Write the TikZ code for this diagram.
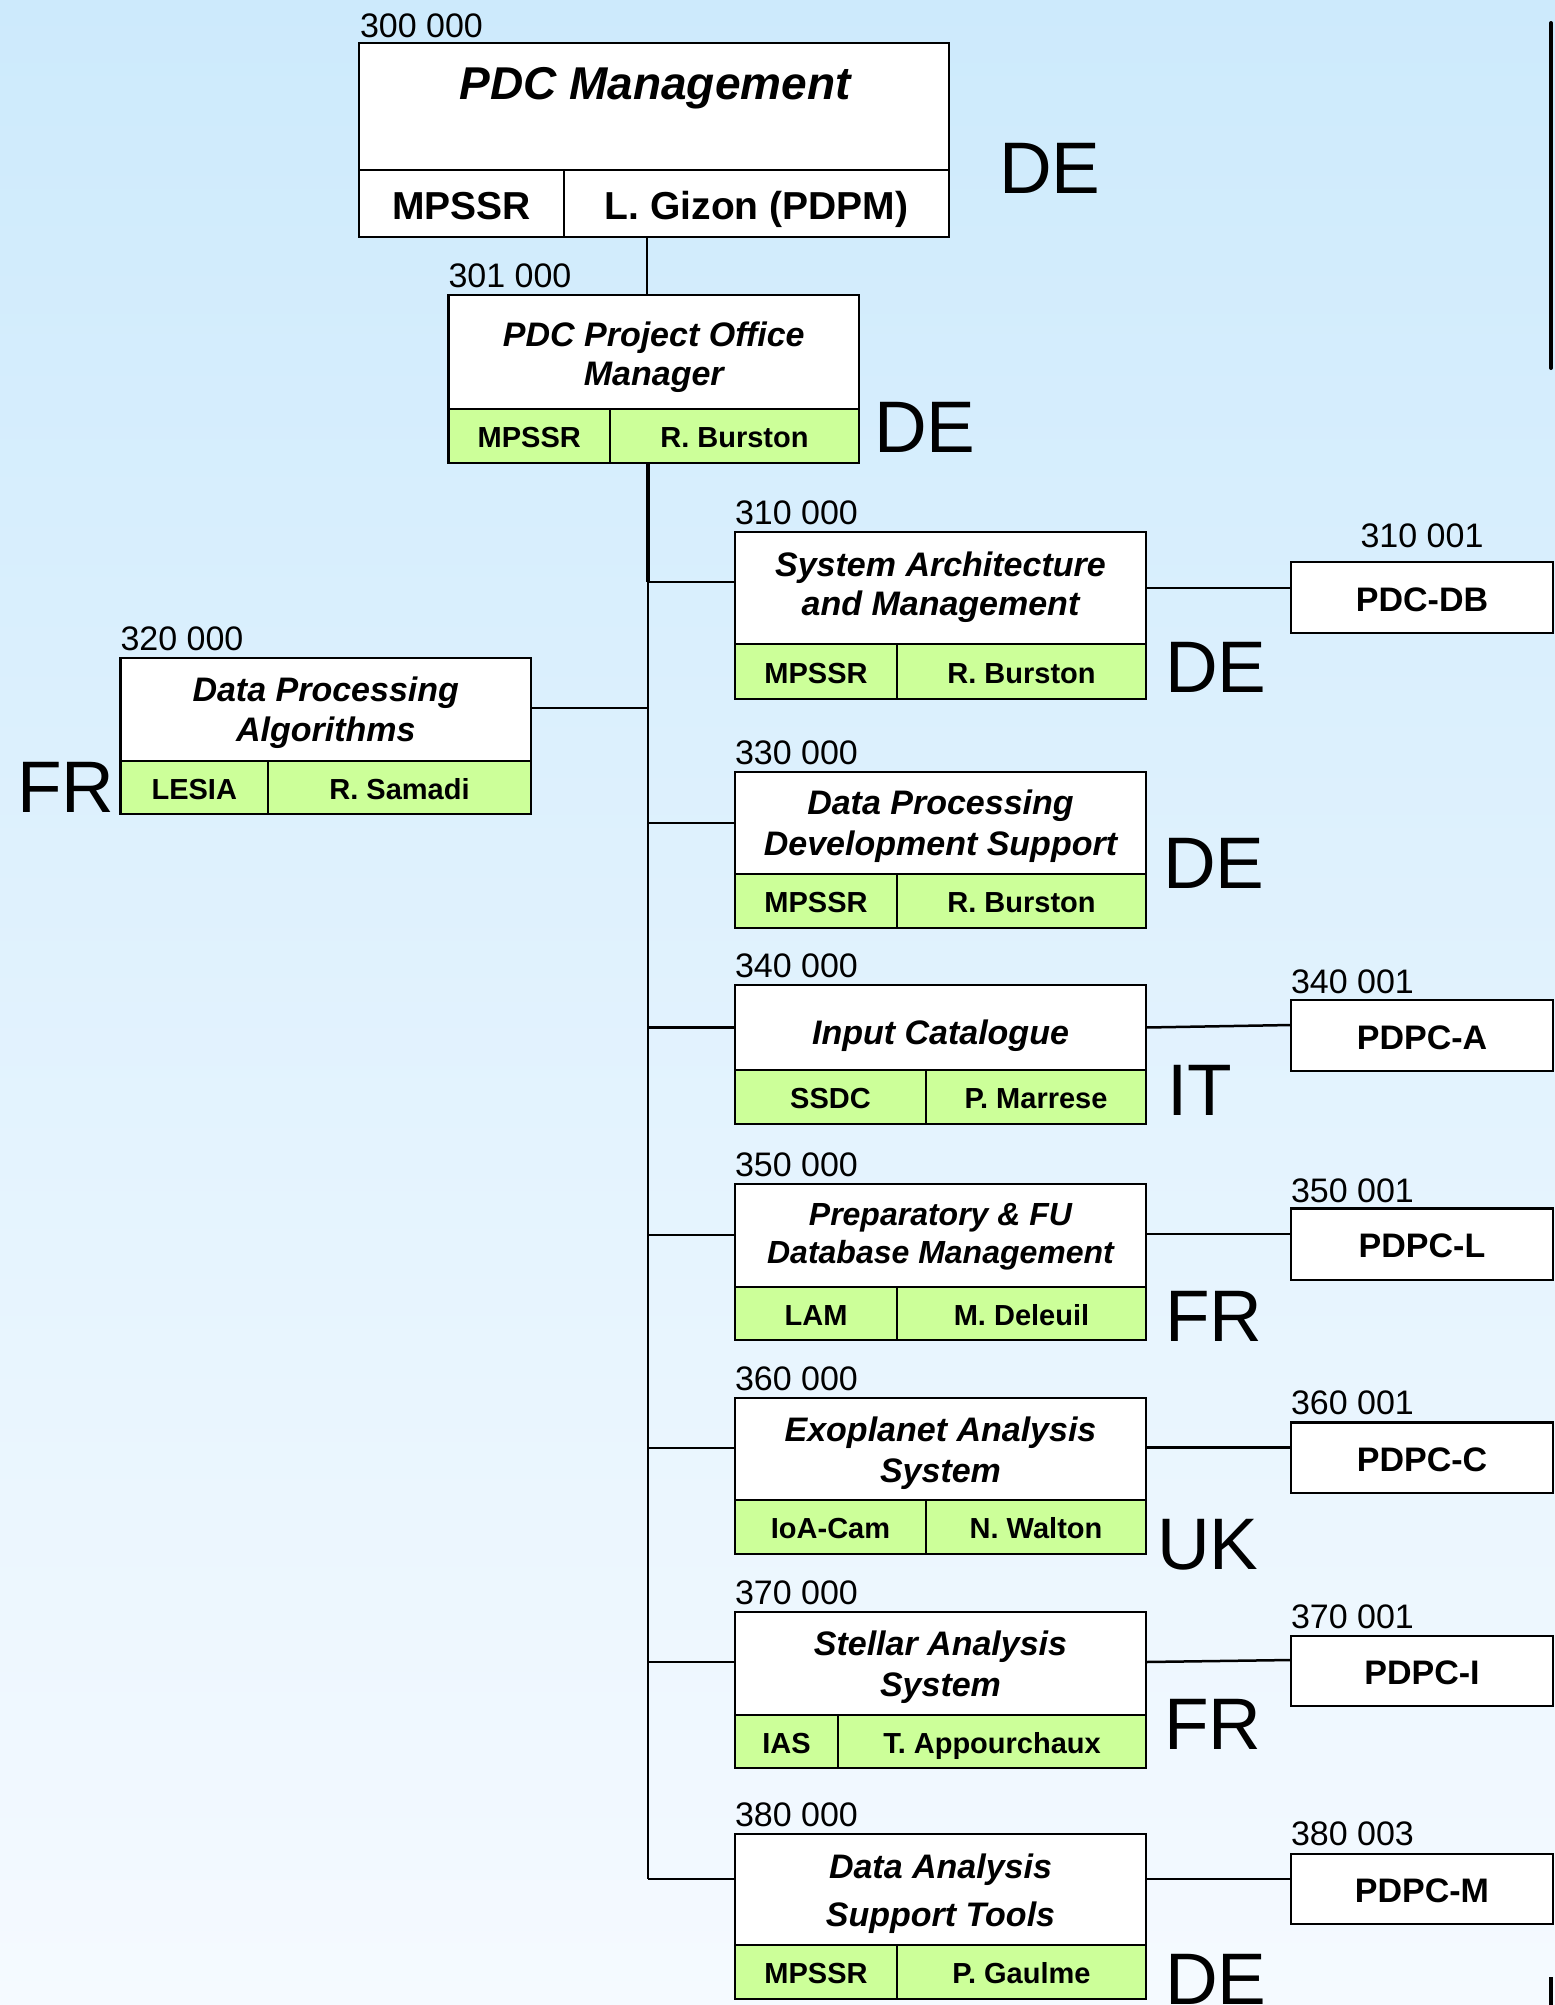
\documentclass[tikz,border=0pt]{standalone}
\usepackage{fontspec}
\setmainfont{Liberation Sans}
\definecolor{bgtop}{RGB}{205,234,252}
\definecolor{bgbot}{RGB}{245,250,255}
\definecolor{lgreen}{RGB}{204,255,153}
\newcommand\botst{\rule[-0.3em]{0pt}{0.3em}}
\tikzset{
  capc/.style={execute at begin node=\rule{0pt}{#1}, execute at end node=\botst},
  capc/.default=1.1em,
  bx/.style={draw=black, line width=2.5pt, rectangle, inner sep=0pt, outer sep=0pt, align=center},
  ttlbox/.style={bx, fill=white},
  ttltext/.style={capc=1.28em, inner sep=0pt, outer sep=0pt, align=center},
  cellg/.style={bx, capc, fill=lgreen, font=\fontsize{29}{33}\selectfont\bfseries},
  cellw/.style={bx, capc, fill=white, font=\fontsize{39}{43}\selectfont\bfseries},
  pdpc/.style={bx, capc, fill=white, font=\fontsize{34}{38}\selectfont\bfseries},
  codel/.style={anchor=base west, inner sep=0pt, outer sep=0pt, font=\fontsize{34}{38}\selectfont},
  ctry/.style={anchor=base west, inner sep=0pt, outer sep=0pt, font=\fontsize{73}{80}\selectfont},
  conn/.style={draw=black, line width=2.5pt},
}
% #1 name #2 left #3 top #4 right #5 divider #6 code #7 font size/baselineskip #8 title #9 downward shift
\newcommand\wbox[9]{%
  \node[ttlbox, minimum width={#4-#2}, minimum height={#5-#3}]
        (t#1) at ({(#2+#4)/2},{(#3+#5)/2}) {};
  \node[ttltext, font=\fontsize#7\selectfont\bfseries\itshape]
        (x#1) at ([yshift=-#9pt]t#1.center) {#8};
  \node[codel] (c#1) at ([yshift=7.5pt]t#1.north west) {#6};
}
% #1 name #2 inst width #3 height #4 total width #5 inst #6 person
\newcommand\wcells[6]{%
  \node[cellg, minimum width={#2}, minimum height={#3}, anchor=north west]
        (i#1) at (t#1.south west) {#5};
  \node[cellg, minimum width={#4-(#2)}, minimum height={#3}, anchor=north east]
        (p#1) at (t#1.south east) {#6};
}
\begin{document}
\begin{tikzpicture}[x=1pt,y=-1pt]
\useasboundingbox (0,0) rectangle (1555,2005);
\shade[top color=bgtop, bottom color=bgbot] (0,0) rectangle (1555,2005);

% decorative black bars at the right edge
\draw[line width=4pt, line cap=round] (1551,23) -- (1551,368);
\draw[line width=4pt] (1551,1977) -- (1551,2005);

% ---------- 300 000 ----------
\node[bx, fill=white, minimum width=590, minimum height=127, anchor=north west] (t300) at (359,43) {};
\node[capc=1.1em, inner sep=0pt, font=\fontsize{46}{50}\selectfont\bfseries\itshape] (x300) at (655,81) {PDC Management};
\node[cellw, minimum width=205, minimum height=67, anchor=north west] (i300) at (t300.south west) {MPSSR};
\node[cellw, minimum width=385, minimum height=67, anchor=north east] (p300) at (t300.south east) {L. Gizon (PDPM)};
\node[codel] (c300) at (360,37) {300 000};
\node[ctry] (k300) at (999,193) {DE};

% ---------- 301 000 ----------
\wbox{301}{448.5}{295}{859}{409}{301 000}{{34}{38.5}}{PDC Project Office\\Manager}{7}
\wcells{301}{161.5}{54}{410.5}{MPSSR}{R. Burston}
\node[ctry] (k301) at (874,452) {DE};

% ---------- 310 000 ----------
\wbox{310}{735}{532}{1146}{644}{310 000}{{34}{39}}{System Architecture\\and Management}{1}
\wcells{310}{162}{55}{411}{MPSSR}{R. Burston}
\node[ctry] (k310) at (1165,692) {DE};

% ---------- 320 000 ----------
\wbox{320}{120.5}{658}{531}{761}{320 000}{{34}{39.5}}{Data Processing\\Algorithms}{5}
\wcells{320}{147.5}{53}{410.5}{LESIA}{R. Samadi}
\node[ctry] (k320) at (17,812) {FR};

% ---------- 330 000 ----------
\wbox{330}{735}{772}{1146}{874}{330 000}{{34}{41}}{Data Processing\\Development Support}{5}
\wcells{330}{162}{54}{411}{MPSSR}{R. Burston}
\node[ctry] (k330) at (1163,888) {DE};

% ---------- 340 000 ----------
\wbox{340}{735}{985}{1146}{1070}{340 000}{{34}{38}}{Input Catalogue}{0}
\wcells{340}{191}{54}{411}{SSDC}{P. Marrese}
\node[ctry] (k340) at (1167,1115) {IT};

% ---------- 350 000 ----------
\wbox{350}{735}{1184}{1146}{1287}{350 000}{{32}{38}}{Preparatory \& FU\\Database Management}{3}
\wcells{350}{162}{53}{411}{LAM}{M. Deleuil}
\node[ctry] (k350) at (1165,1341) {FR};

% ---------- 360 000 ----------
\wbox{360}{735}{1398}{1146}{1500}{360 000}{{34}{41}}{Exoplanet Analysis\\System}{6}
\wcells{360}{191}{54}{411}{IoA-Cam}{N. Walton}
\node[ctry] (k360) at (1157,1569) {UK};

% ---------- 370 000 ----------
\wbox{370}{735}{1612}{1146}{1715}{370 000}{{34}{41}}{Stellar Analysis\\System}{5}
\wcells{370}{103}{53}{411}{IAS}{T. Appourchaux}
\node[ctry] (k370) at (1164,1749) {FR};

% ---------- 380 000 ----------
\wbox{380}{735}{1834}{1146}{1945}{380 000}{{34}{47.5}}{Data Analysis\\Support Tools}{6}
\wcells{380}{162}{54}{411}{MPSSR}{P. Gaulme}
\node[ctry] (k380) at (1165,2004) {DE};

% ---------- PDPC boxes ----------
\node[pdpc, minimum width=262, minimum height=71, anchor=north west] (d310) at (1291,562) {PDC-DB};
\node[anchor=base, inner sep=0pt, font=\fontsize{34}{38}\selectfont] (e310) at (1422,547) {310 001};
\node[pdpc, minimum width=262, minimum height=71, anchor=north west] (d340) at (1291,1000) {PDPC-A};
\node[codel] (e340) at (1291,993) {340 001};
\node[pdpc, minimum width=262, minimum height=71.5, anchor=north west] (d350) at (1291,1208.5) {PDPC-L};
\node[codel] (e350) at (1291,1202) {350 001};
\node[pdpc, minimum width=262, minimum height=70.5, anchor=north west] (d360) at (1291,1422.5) {PDPC-C};
\node[codel] (e360) at (1291,1414) {360 001};
\node[pdpc, minimum width=262, minimum height=70, anchor=north west] (d370) at (1291,1636) {PDPC-I};
\node[codel] (e370) at (1291,1628) {370 001};
\node[pdpc, minimum width=262, minimum height=70, anchor=north west] (d380) at (1291,1854) {PDPC-M};
\node[codel] (e380) at (1291,1845) {380 003};

% ---------- connectors ----------
\coordinate (tx) at (648,0);
\coordinate (tx2) at (647,0);
\draw[conn] (p300.south -| tx2) -- (t301.north -| tx2);

\coordinate (j310) at (648,582);
\coordinate (j320) at (648,708);
\coordinate (j330) at (648,823);
\coordinate (j340) at (648,1027.5);
\coordinate (j350) at (648,1235);
\coordinate (j360) at (648,1448);
\coordinate (j370) at (648,1662);
\coordinate (j380) at (648,1879);

\draw[conn, line width=4pt] (p301.south -| tx) -- (j310);
\draw[conn] (j310) -- (j380);
\draw[conn] (j310) -- (j310 -| t310.west);
\draw[conn] (j320) -- (j320 -| t320.east);
\draw[conn] (j330) -- (j330 -| t330.west);
\draw[conn] (j340) -- (j340 -| t340.west);
\draw[conn] (j350) -- (j350 -| t350.west);
\draw[conn] (j360) -- (j360 -| t360.west);
\draw[conn] (j370) -- (j370 -| t370.west);
\draw[conn] (j380) -- (j380 -| t380.west);

\coordinate (r310) at (0,588);
\coordinate (r340a) at (0,1027.5);
\coordinate (r340b) at (0,1025);
\coordinate (r350) at (0,1234);
\coordinate (r360) at (0,1447.5);
\coordinate (r370a) at (0,1662);
\coordinate (r370b) at (0,1660);
\coordinate (r380) at (0,1879);
\draw[conn] (t310.east |- r310) -- (d310.west |- r310);
\draw[conn] (t340.east |- r340a) -- (d340.west |- r340b);
\draw[conn] (t350.east |- r350) -- (d350.west |- r350);
\draw[conn] (t360.east |- r360) -- (d360.west |- r360);
\draw[conn] (t370.east |- r370a) -- (d370.west |- r370b);
\draw[conn] (t380.east |- r380) -- (d380.west |- r380);
\end{tikzpicture}
\end{document}
